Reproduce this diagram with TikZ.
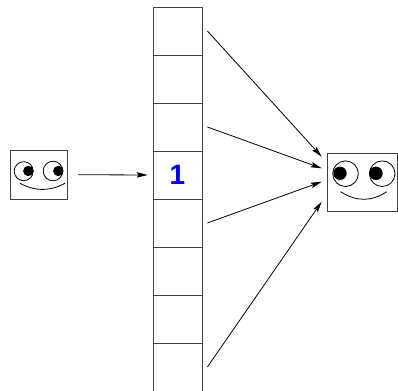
\documentclass[tikz,border=0pt]{standalone}
\usepackage{fontspec}
\newfontfamily\cellfont{Liberation Sans}
\usetikzlibrary{arrows.meta}

\tikzset{
    cell/.style={draw=black!75, line width=0.8pt, minimum width=49pt, minimum height=48pt,
        inner sep=0pt, text=blue, font=\cellfont\bfseries\fontsize{28}{28}\selectfont},
    facebox/.style={draw=black!75, line width=0.8pt, inner sep=0pt},
    eye/.style={draw=black, line width=0.8pt},
    arr/.style={-{Stealth[length=11pt,width=5.5pt,inset=2pt]}, line width=0.8pt},
}

\begin{document}
\begin{tikzpicture}[x=1pt,y=-1pt]
        \useasboundingbox (0,0) rectangle (398,390);
        % the array
        \foreach \i/\lbl in {1/{},2/{},3/{},4/1,5/{},6/{},7/{},8/{}}
            \node[cell] (c\i) at (177.5,{31+48*(\i-1)}) {\lbl};
        % small face on the left
        \node[facebox, minimum width=57.5pt, minimum height=49pt] (lf) at (39,174.7) {};
        \draw[eye] (23.7,171.2) circle (9.5pt);
        \fill (28.3,171) circle (5.2pt);
        \draw[eye] (53,171) circle (9.8pt);
        \fill (58.3,171) circle (5.2pt);
        \draw[eye] (20,183.3) .. controls (35,191.5) and (50,191.5) .. (65,183.3);
        % bigger face on the right
        \node[facebox, minimum width=70.2pt, minimum height=57.7pt] (rf) at (362.4,182.2) {};
        \draw[eye] (345.5,173.7) circle (12.8pt);
        \fill (340,173.3) circle (6.7pt);
        \draw[eye] (382.2,173.7) circle (12.8pt);
        \fill (376,173.3) circle (6.7pt);
        \draw[eye] (340.7,191.7) .. controls (356,201.8) and (371.5,201.8) .. (386.7,191.7);
        % arrow heads in front of the right face
        \coordinate (t1) at (321.7,156.7);
        \coordinate (t2) at (321.7,168.3);
        \coordinate (t3) at (321.7,181.7);
        \coordinate (t4) at (321.7,201.7);
        % connectors
        \draw[arr, shorten <=10pt, shorten >=5pt] (lf.east) -- (c4.west);
        \draw[arr] ([xshift=5pt]c1.east) -- (t1);
        \draw[arr] ([xshift=5pt]c3.east) -- (t2);
        \draw[arr] ([xshift=5pt]c5.east) -- (t3);
        \draw[arr] ([xshift=5pt]c8.east) -- (t4);
\end{tikzpicture}
\end{document}
